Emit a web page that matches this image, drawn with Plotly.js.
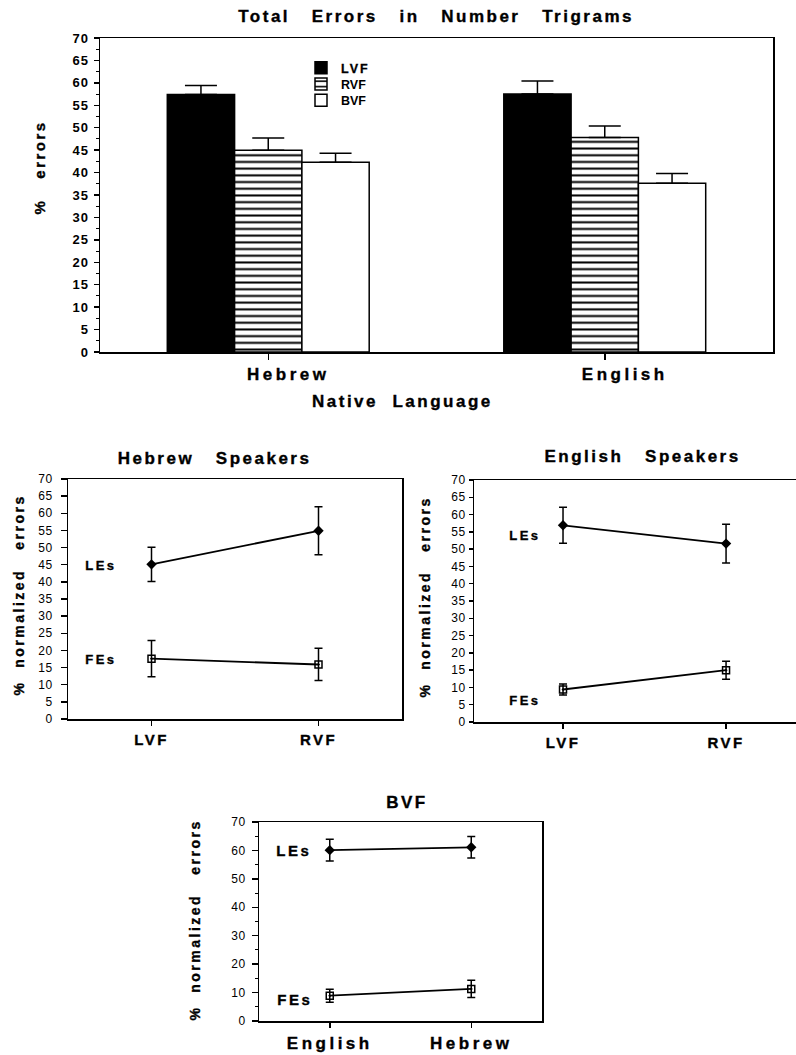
<!DOCTYPE html>
<html><head><meta charset="utf-8">
<script src="https://cdn.plot.ly/plotly-3.0.1.min.js"></script>
<style>
html,body{margin:0;padding:0;background:#fff;overflow:hidden}
#chart{width:796px;height:1055px}
.js-plotly-plot .annotation-text{letter-spacing:2.5px;stroke:#000;stroke-width:0.35px}
.js-plotly-plot .legendtext{letter-spacing:2px;stroke:#000;stroke-width:0.3px}
.js-plotly-plot .xtick text,.js-plotly-plot .x4tick text{letter-spacing:3.5px;stroke:#000;stroke-width:0.35px}
.js-plotly-plot .x2tick text,.js-plotly-plot .x3tick text{letter-spacing:2.5px;stroke:#000;stroke-width:0.35px}
.js-plotly-plot .ytick text{letter-spacing:1px}
.js-plotly-plot .y2tick text,.js-plotly-plot .y3tick text,.js-plotly-plot .y4tick text{letter-spacing:0.8px}
</style></head>
<body><div id="chart"></div>
<script>
// ---- data ----
const languages = ['Hebrew', 'English'];
const fieldNames = ['LVF', 'RVF', 'BVF'];
const totalErrLVF = [57.4, 57.5];
const totalErrRVF = [45.0, 47.8];
const totalErrBVF = [42.3, 37.6];
const totalSemLVF = [2.0, 2.9];
const totalSemRVF = [2.7, 2.6];
const totalSemBVF = [2.0, 2.2];

const visualFields = ['LVF', 'RVF'];
const hebLEs = [45.1, 54.9];
const hebLEsErr = [5.0, 7.0];
const hebFEs = [17.6, 15.9];
const hebFEsErr = [5.3, 4.7];
const engLEs = [56.9, 51.6];
const engLEsErr = [5.2, 5.6];
const engFEs = [9.4, 15.0];
const engFEsErr = [1.6, 2.6];

const bvfGroups = ['English', 'Hebrew'];
const bvfLEs = [60.1, 61.1];
const bvfLEsErr = [3.8, 3.8];
const bvfFEs = [8.9, 11.3];
const bvfFEsErr = [2.3, 3.0];

// ---- helpers ----
const W = 796, H = 1055;
const px = v => v / W;
const py = v => 1 - v / H;
const F = 'Liberation Sans, Arial, Helvetica, sans-serif';
const K = '#000';
const NB = '\u00a0';
const gap = n => NB.repeat(n);

function bar(name, y, sem, marker, legendId) {
  return {
    type: 'bar', name: name, x: languages, y: y, xaxis: 'x', yaxis: 'y',
    legend: legendId,
    marker: marker,
    error_y: {type: 'data', symmetric: false, array: sem, arrayminus: sem.map(() => 0),
              color: K, thickness: 1.5, width: 16},
    hoverinfo: 'skip'
  };
}
function line(x, y, err, ax, sym) {
  const open = sym === 'square-open-dot';
  return {
    type: 'scatter', mode: 'lines+markers', x: x, y: y,
    xaxis: 'x' + ax, yaxis: 'y' + ax, showlegend: false,
    line: {color: K, width: 1.8},
    marker: {symbol: sym, size: open ? 7 : 8, color: K, line: {color: K, width: open ? 1.5 : 0}},
    error_y: {type: 'data', array: err, color: K, thickness: 1.5, width: 4},
    hoverinfo: 'skip'
  };
}

const data = [
  bar(fieldNames[0], totalErrLVF, totalSemLVF, {color: K, line: {color: K, width: 1.5}}, 'legend'),
  bar(fieldNames[1], totalErrRVF, totalSemRVF, {color: '#fff', line: {color: K, width: 1.5},
      pattern: {shape: '-', fgcolor: K, bgcolor: '#fff', size: 6.7, solidity: 0.3}}, 'legend2'),
  bar(fieldNames[2], totalErrBVF, totalSemBVF, {color: '#fff', line: {color: K, width: 1.5}}, 'legend3'),
  line(visualFields, hebLEs, hebLEsErr, 2, 'diamond'),
  line(visualFields, hebFEs, hebFEsErr, 2, 'square-open-dot'),
  line(visualFields, engLEs, engLEsErr, 3, 'diamond'),
  line(visualFields, engFEs, engFEsErr, 3, 'square-open-dot'),
  line(bvfGroups, bvfLEs, bvfLEsErr, 4, 'diamond'),
  line(bvfGroups, bvfFEs, bvfFEsErr, 4, 'square-open-dot')
];

const baseAx = {
  showline: true, linecolor: K, linewidth: 1.5, mirror: true,
  ticks: 'outside', tickcolor: K, tickwidth: 1.5, ticklen: 5,
  showgrid: false, zeroline: false, fixedrange: true
};
const xFont = (s) => ({family: F, size: s, color: K, weight: 'bold'});
const yFont = (s, w) => ({family: F, size: s, color: K, weight: w});
const legendAt = (y) => ({x: px(301), y: py(y), xanchor: 'left', yanchor: 'top',
  font: {family: F, size: 12.5, color: K, weight: 'bold'},
  bgcolor: 'rgba(0,0,0,0)', borderwidth: 0});

const layout = {
  width: W, height: H, margin: {l: 0, r: 0, t: 0, b: 0},
  paper_bgcolor: '#fff', plot_bgcolor: '#fff',
  barmode: 'group', bargap: 0.4, bargroupgap: 0,
  showlegend: true,
  legend: legendAt(53),
  legend2: legendAt(69.3),
  legend3: legendAt(85.6),
  xaxis: Object.assign({}, baseAx, {domain: [px(100), px(773)], anchor: 'y', type: 'category',
          range: [-0.5, 1.5], ticklen: 6, tickfont: xFont(17), ticklabelshift: 20, ticklabelstandoff: 0}),
  yaxis: Object.assign({}, baseAx, {domain: [py(352), py(38)], anchor: 'x', range: [0, 70],
          tick0: 0, dtick: 5, tickfont: yFont(13, 'bold'), ticklabelstandoff: 2,
          minor: {dtick: 2.5, ticks: 'outside', ticklen: 3, tickcolor: K, tickwidth: 1}}),
  xaxis2: Object.assign({}, baseAx, {domain: [px(68), px(402)], anchor: 'y2', type: 'category',
          range: [-0.5, 1.5], tickfont: xFont(15), ticklabelstandoff: 1}),
  yaxis2: Object.assign({}, baseAx, {domain: [py(719), py(479)], anchor: 'x2', range: [0, 70],
          tick0: 0, dtick: 5, ticklen: 6, tickfont: yFont(12, 'normal'), ticklabelstandoff: 5}),
  xaxis3: Object.assign({}, baseAx, {domain: [px(474), 1], anchor: 'y3', type: 'category',
          range: [-0.546, 1.429], tickfont: xFont(15), ticklabelstandoff: 1}),
  yaxis3: Object.assign({}, baseAx, {domain: [py(722), py(480)], anchor: 'x3', range: [0, 70],
          mirror: false, tick0: 0, dtick: 5, ticklen: 4, tickfont: yFont(12, 'normal')}),
  xaxis4: Object.assign({}, baseAx, {domain: [px(259), px(542)], anchor: 'y4', type: 'category',
          range: [-0.5, 1.5], tickfont: xFont(17), ticklabelstandoff: 1}),
  yaxis4: Object.assign({}, baseAx, {domain: [py(1021), py(822)], anchor: 'x4', range: [0, 70],
          tick0: 0, dtick: 10, ticklen: 6, tickfont: yFont(12, 'normal'), ticklabelstandoff: 3,
          minor: {dtick: 5, ticks: 'outside', ticklen: 3, tickcolor: K, tickwidth: 1}}),
  annotations: []
};

function note(text, x, y, size, angle) {
  layout.annotations.push({
    text: text, xref: 'paper', yref: 'paper', x: px(x), y: py(y),
    xanchor: 'center', yanchor: 'middle', showarrow: false, textangle: angle || 0,
    font: {family: F, size: size, color: K, weight: 'bold'}
  });
}
note('Total' + gap(3) + 'Errors' + gap(3) + 'in' + gap(3) + 'Number' + gap(3) + 'Trigrams', 436, 16, 17);
note('Native' + gap(2) + 'Language', 402, 402, 17);
note('%' + gap(3) + 'errors', 40, 168, 15, -90);
note('Hebrew' + gap(3) + 'Speakers', 215, 458, 17);
note('English' + gap(3) + 'Speakers', 642, 457, 17);
note('BVF', 407, 802, 17);
note('%' + gap(2) + 'normalized' + gap(3) + 'errors', 19, 595, 14, -90);
note('%' + gap(2) + 'normalized' + gap(3) + 'errors', 425, 597, 14, -90);
note('%' + gap(2) + 'normalized' + gap(3) + 'errors', 195, 920, 14, -90);
note('LEs', 101, 565, 13);
note('FEs', 101, 659, 13);
note('LEs', 525, 535, 13);
note('FEs', 525, 700, 13);
note('LEs', 294, 850, 15);
note('FEs', 295, 999, 15);

Plotly.newPlot('chart', data, layout, {staticPlot: true, displayModeBar: false});
</script></body></html>
